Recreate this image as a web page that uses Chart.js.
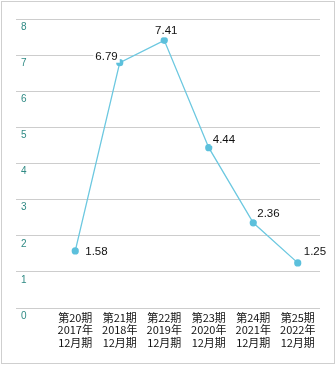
<!DOCTYPE html>
<html>
<head>
<meta charset="utf-8">
<script src="https://cdn.jsdelivr.net/npm/chart.js@4/dist/chart.umd.min.js"></script>
<style>
  body { margin: 0; background: #fff; }
  #frame { position: absolute; left: 1px; top: 1px; width: 332px; height: 361px; border: 1px solid #cfcfcf; }
  #eps { position: absolute; left: 0; top: 0; }
</style>
</head>
<body>
<div id="frame"></div>
<canvas id="eps" width="336" height="365"></canvas>
<script>
// 1株当たり当期純利益の推移
const terms = ["第20期", "第21期", "第22期", "第23期", "第24期", "第25期"];
const years = ["2017年", "2018年", "2019年", "2020年", "2021年", "2022年"];
const months = ["12月期", "12月期", "12月期", "12月期", "12月期", "12月期"];
const values = [1.58, 6.79, 7.41, 4.44, 2.36, 1.25];
const yTicks = [0, 1, 2, 3, 4, 5, 6, 7, 8];

const labels = terms.map((t, i) => [t, years[i], months[i]]);

// 値ラベル（白地の上に数値を描く）
const valueLabels = {
  id: "valueLabels",
  afterDatasetsDraw(chart) {
    const place = [["left", 10, 1], ["right", -2, -6], ["center", 2, -9],
                   ["left", 4, -8], ["left", 4, -9], ["left", 6, -11]];
    const ctx = chart.ctx;
    const meta = chart.getDatasetMeta(0);
    ctx.save();
    ctx.font = "11.5px 'Liberation Sans', Arial, sans-serif";
    ctx.textBaseline = "middle";
    meta.data.forEach((pt, i) => {
      const txt = values[i].toFixed(2);
      const [align, dx, dy] = place[i];
      const w = ctx.measureText(txt).width;
      let x = pt.x + dx;
      if (align === "right") x -= w;
      if (align === "center") x -= w / 2;
      const y = pt.y + dy;
      ctx.fillStyle = "#fff";
      ctx.fillRect(x - 2, y - 6, w + 4, 12);
      ctx.fillStyle = "#111";
      ctx.textAlign = "left";
      ctx.fillText(txt, x, y);
    });
    ctx.restore();
  }
};

new Chart(document.getElementById("eps"), {
  type: "line",
  data: {
    labels: labels,
    datasets: [{
      data: values,
      borderColor: "#6cc8e0",
      borderWidth: 1.3,
      pointBackgroundColor: "#5cc0dc",
      pointBorderWidth: 0,
      pointRadius: 3.6,
      tension: 0
    }]
  },
  options: {
    responsive: false,
    animation: false,
    layout: { padding: { left: 21, right: 16, top: 19, bottom: 13 } },
    plugins: { legend: { display: false }, tooltip: { enabled: false } },
    scales: {
      x: {
        offset: true,
        grid: { display: false, drawTicks: false },
        border: { display: false },
        ticks: {
          color: "#111",
          padding: 3,
          maxRotation: 0,
          autoSkip: false,
          font: { family: "'Noto Sans CJK JP', sans-serif", size: 11, lineHeight: 1.15 }
        }
      },
      y: {
        min: 0,
        max: 8,
        afterFit(scale) { scale.width = 32; },
        afterBuildTicks(scale) { scale.ticks = yTicks.map(v => ({ value: v })); },
        border: { display: false },
        grid: { color: "#cdcdcd", lineWidth: 1, tickLength: 37, tickColor: "#cdcdcd" },
        ticks: {
          crossAlign: "far",
          labelOffset: 8,
          padding: 0,
          color: "#2f8a84",
          font: { family: "'Liberation Sans', Arial, sans-serif", size: 10 }
        }
      }
    }
  },
  plugins: [valueLabels]
});
</script>
</body>
</html>
